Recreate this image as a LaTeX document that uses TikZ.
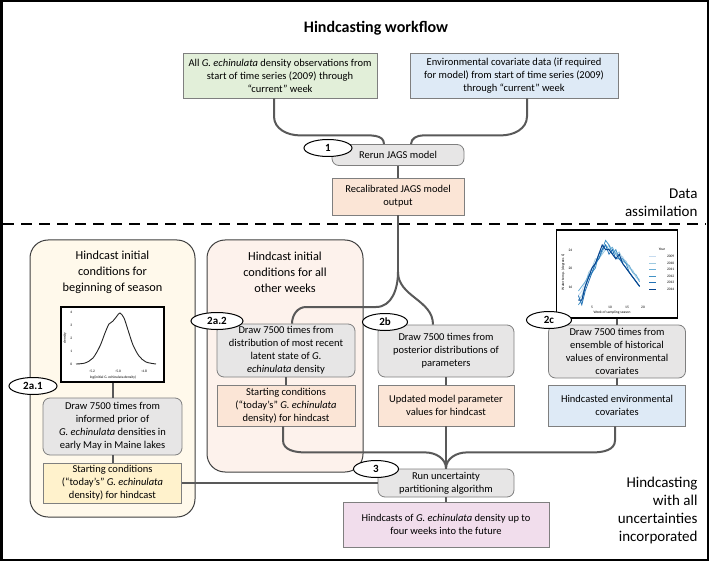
\documentclass[tikz,border=0pt]{standalone}
\usepackage{fontspec}
\setmainfont{Carlito}
\usetikzlibrary{shapes.geometric}

\definecolor{conngray}{HTML}{595959}
\definecolor{edgegray}{HTML}{7F7F7F}
\definecolor{obsgreen}{HTML}{E2EFD9}
\definecolor{envblue}{HTML}{DEEAF6}
\definecolor{stepgray}{HTML}{E7E6E6}
\definecolor{peach}{HTML}{FBE5D6}
\definecolor{startyellow}{HTML}{FFF2CC}
\definecolor{outpink}{HTML}{F1DDEC}
\definecolor{creampanel}{HTML}{FFF9EB}
\definecolor{peachpanel}{HTML}{FDF2EC}
\definecolor{panelline}{HTML}{404040}
\definecolor{y09}{HTML}{C6DBEF}
\definecolor{y10}{HTML}{9ECAE1}
\definecolor{y11}{HTML}{6BAED6}
\definecolor{y12}{HTML}{4292C6}
\definecolor{y13}{HTML}{2171B5}
\definecolor{y14}{HTML}{08458F}

\begin{document}
\begin{tikzpicture}[x=1pt,y=1pt,
  conn/.style={draw=conngray,line width=2pt},
  box/.style={draw=edgegray,line width=0.8pt,align=center,inner sep=1pt,
    font=\fontsize{10.5}{13}\selectfont},
  draw box/.style={box,fill=stepgray,rounded corners=7pt},
  panel/.style={draw=panelline,line width=1pt,rounded corners=18pt,inner sep=0pt},
  panel head/.style={align=center,font=\fontsize{12.3}{16}\selectfont},
  num/.style={ellipse,draw,fill=white,line width=1pt,minimum width=48pt,
    minimum height=17pt,inner sep=0pt,font=\fontsize{11}{12}\selectfont\bfseries},
  side label/.style={align=right,anchor=east,font=\fontsize{15}{18}\selectfont},
  tiny/.style={inner sep=0.5pt,font=\fontsize{3.6}{4}\selectfont}]

  \useasboundingbox (0,0) rectangle (709,-561);
  \draw[line width=2.5pt] (1.25,-1.25) rectangle (707.75,-559.75);

  % data assimilation part
  \node[font=\fontsize{16}{19}\selectfont\bfseries] (title) at (376,-28) {Hindcasting workflow};
  \node[box,fill=obsgreen,minimum width=194,minimum height=45] (obs) at (280,-75.5)
    {All \textit{G. echinulata} density observations from\\start of time series (2009) through\\“current” week};
  \node[box,fill=envblue,minimum width=208,minimum height=45] (envdata) at (514,-75.5)
    {Environmental covariate data (if required\\for model) from start of time series (2009)\\through “current” week};
  \node[draw box,minimum width=132,minimum height=21] (rerun) at (398,-155) {Rerun JAGS model};
  \node[box,fill=peach,minimum width=132,minimum height=37] (recal) at (398,-196.5)
    {Recalibrated JAGS model\\output};
  \node[num] (n1) at (328,-148) {1};
  \node[side label] (assimlbl) at (701,-203) {Data\\assimilation};

  \draw[line width=2.5pt,dash pattern=on 11pt off 7pt] (3,-224) -- (706,-224);

  % panels for the initial conditions
  \node[panel,fill=creampanel,minimum width=165,minimum height=277] (leftpanel) at (112.5,-378.5) {};
  \node[panel,fill=peachpanel,minimum width=156,minimum height=232] (midpanel) at (285,-356) {};
  \node[panel head] (lefthead) at (112.5,-272) {Hindcast initial\\conditions for\\beginning of season};
  \node[panel head] (midhead) at (285,-272) {Hindcast initial\\conditions for all\\other weeks};

  % prior density inset
  \node[draw=black,line width=1.1pt,fill=white,minimum width=103,minimum height=75,inner sep=0pt]
    (densplot) at (112.5,-344.5) {};
  \draw[line width=0.9pt,draw=black!85] plot[smooth] coordinates {(76,-364) (85,-363) (93,-358) (100,-346)
    (105,-333) (109,-324) (113,-321) (117,-316) (120,-313) (124,-318) (128,-330) (133,-345)
    (139,-356) (146,-362) (156,-364)};
  \foreach \k in {0,...,4}
    \node[tiny,anchor=east] (dtick\k) at (73,{-364+13*\k}) {\k};
  \foreach \v/\xx [count=\i] in {-5.2/92,-5.0/118,-4.8/144}
    \node[tiny] (xtick\i) at (\xx,-371) {\v};
  \node[tiny] (dxlab) at (113,-377) {log(initial G. echinulata density)};
  \node[tiny,rotate=90] (dylab) at (65,-338) {density};

  % water temperature inset
  \node[draw=black,line width=1.1pt,fill=white,minimum width=121,minimum height=88,inner sep=0pt]
    (tempplot) at (617,-274) {};
  \begin{scope}[shift={(575,-360)},x=3.4pt,y=4.6pt,line width=0.8pt]
    \draw[y09] plot coordinates {(1,14) (2,15) (3,17) (4,18) (5,20) (6,21) (7,23) (8,24) (9,25) (10,24)
      (11,23) (12,23.5) (13,22) (14,22.5) (15,21) (16,20) (17,19) (18,18) (19,17)};
    \draw[y10] plot coordinates {(1,13) (2,14) (3,16) (4,19) (5,20) (6,22) (7,22) (8,23) (9,24) (10,25)
      (11,24) (12,23) (13,23.5) (14,22) (15,21.5) (16,20) (17,19.5) (18,18) (19,17.5)};
    \draw[y11] plot coordinates {(1,15) (2,16) (3,17) (4,18.5) (5,19) (6,21) (7,22) (8,23.5) (9,25) (10,24)
      (11,24.5) (12,23) (13,22) (14,21.5) (15,21) (16,20.5) (17,19) (18,18.5) (19,17)};
    \draw[y12] plot coordinates {(1,12) (2,13) (3,16) (4,18) (5,19) (6,20) (7,23) (8,24) (9,26) (10,25)
      (11,23) (12,24) (13,22) (14,22) (15,21) (16,19) (17,18) (18,17) (19,16)};
    \draw[y13] plot coordinates {(1,14) (2,12) (3,15) (4,17) (5,19) (6,21) (7,22) (8,24) (9,25) (10,23)
      (11,24) (12,22) (13,22) (14,21) (15,20) (16,19) (17,18) (18,17) (19,16)};
    \draw[y14,line width=1pt] plot coordinates {(1,13) (2,13) (3,16) (4,18) (5,20) (6,21) (7,23) (8,25) (9,24) (10,24)
      (11,23) (12,22) (13,23) (14,21) (15,20) (16,19) (17,18) (18,17) (19,16)};
  \end{scope}
  \foreach \v/\yy in {24/250,20/268,16/287}
    \node[tiny,anchor=east] (ttick\v) at (573,-\yy) {\v};
  \foreach \v/\xx in {5/592,10/610,15/627,20/643}
    \node[tiny] (wtick\v) at (\xx,-307) {\v};
  \node[tiny] (txlab) at (612,-313) {Week of sampling season};
  \node[tiny,rotate=90] (tylab) at (563,-272) {Water temp. (degrees C)};
  \node[tiny] (yearlab) at (662,-249) {Year};
  \foreach \yr/\yy in {2009/256,2010/263,2011/269,2012/276,2013/282,2014/289}{
    \pgfmathtruncatemacro{\yc}{\yr-2000}
    \draw[color=y\ifnum\yc<10 0\fi\yc,line width=0.8pt] (649,-\yy) -- (656,-\yy);
    \node[tiny,anchor=east] (leg\yr) at (675,-\yy) {\yr};
  }

  % hindcast steps
  \node[draw box,minimum width=139,minimum height=57] (draw2a1) at (112.5,-426.5)
    {Draw 7500 times from\\informed prior of\\\textit{G. echinulata} densities in\\early May in Maine lakes};
  \node[box,fill=startyellow,minimum width=138,minimum height=40] (start2a1) at (112.5,-483)
    {Starting conditions\\(“today’s” \textit{G. echinulata}\\density) for hindcast};
  \node[draw box,minimum width=138,minimum height=53] (draw2a2) at (286,-350.5)
    {Draw 7500 times from\\distribution of most recent\\latent state of \textit{G.}\\\textit{echinulata} density};
  \node[box,fill=peach,minimum width=138,minimum height=41] (start2a2) at (286,-405.5)
    {Starting conditions\\(“today’s” \textit{G. echinulata}\\density) for hindcast};
  \node[draw box,minimum width=136,minimum height=52] (draw2b) at (446,-351)
    {Draw 7500 times from\\posterior distributions of\\parameters};
  \node[box,fill=peach,minimum width=136,minimum height=41] (updated) at (446,-405.5)
    {Updated model parameter\\values for hindcast};
  \node[draw box,minimum width=137,minimum height=53] (draw2c) at (617,-351.5)
    {Draw 7500 times from\\ensemble of historical\\values of environmental\\covariates};
  \node[box,fill=envblue,minimum width=137,minimum height=41] (hcenv) at (617,-405.5)
    {Hindcasted environmental\\covariates};
  \node[draw box,minimum width=136,minimum height=28] (run) at (446,-483)
    {Run uncertainty\\partitioning algorithm};
  \node[box,fill=outpink,minimum width=206,minimum height=45] (hindcasts) at (446,-524.5)
    {Hindcasts of \textit{G. echinulata} density up to\\four weeks into the future};
  \node[side label] (uncertlbl) at (701,-510) {Hindcasting\\with all\\uncertainties\\incorporated};

  \node[num] (n2a1) at (33,-386) {2a.1};
  \node[num,minimum width=52pt] (n2a2) at (217,-321) {2a.2};
  \node[num,minimum width=45pt] (n2b) at (385,-322) {2b};
  \node[num,minimum width=45pt] (n2c) at (549,-320) {2c};
  \node[num,minimum width=45pt] (n3) at (376,-469) {3};

  % connectors
  \coordinate (split) at (398,-272);
  \draw[conn] ([xshift=-6pt]obs.south) -- ++(0,-18) to[out=-90,in=180] ++(26,-19)
    -- ++(60,0) to[out=0,in=90] ([xshift=-14pt]rerun.north);
  \draw[conn] ([xshift=13pt]envdata.south) -- ++(0,-18) to[out=-90,in=0] ++(-26,-19)
    -- ++(-78,0) to[out=180,in=90] ([xshift=13pt]rerun.north);
  \draw[conn] (rerun) -- (recal);
  \draw[conn] (recal.south) -- (split);
  \draw[conn] (split) to[out=-90,in=0] ++(-22,-35) -- ++(-70,0)
    to[out=180,in=90] ([xshift=6pt]draw2a2.north);
  \draw[conn] (split) to[out=-90,in=90] ([xshift=-13pt]draw2b.north);
  \draw[conn] (densplot.south) -- (draw2a1.north);
  \draw[conn] (draw2a1) -- (start2a1);
  \draw[conn] (start2a1.east) -- (run.west);
  \draw[conn] (draw2a2) -- (start2a2);
  \draw[conn] (draw2b) -- (updated);
  \draw[conn] (tempplot.south) -- (draw2c.north);
  \draw[conn] (draw2c) -- (hcenv);
  \draw[conn] (updated.south) -- (run.north);
  \draw[conn] ([xshift=-3pt]start2a2.south) -- ++(0,-14) to[out=-90,in=180] ++(22,-12)
    -- ++(120,0) to[out=0,in=90] (run.north);
  \draw[conn] ([xshift=-2pt]hcenv.south) -- ++(0,-14) to[out=-90,in=0] ++(-22,-12)
    -- ++(-126,0) to[out=180,in=90] (run.north);
  \draw[conn] (run) -- (hindcasts);
\end{tikzpicture}
\end{document}
